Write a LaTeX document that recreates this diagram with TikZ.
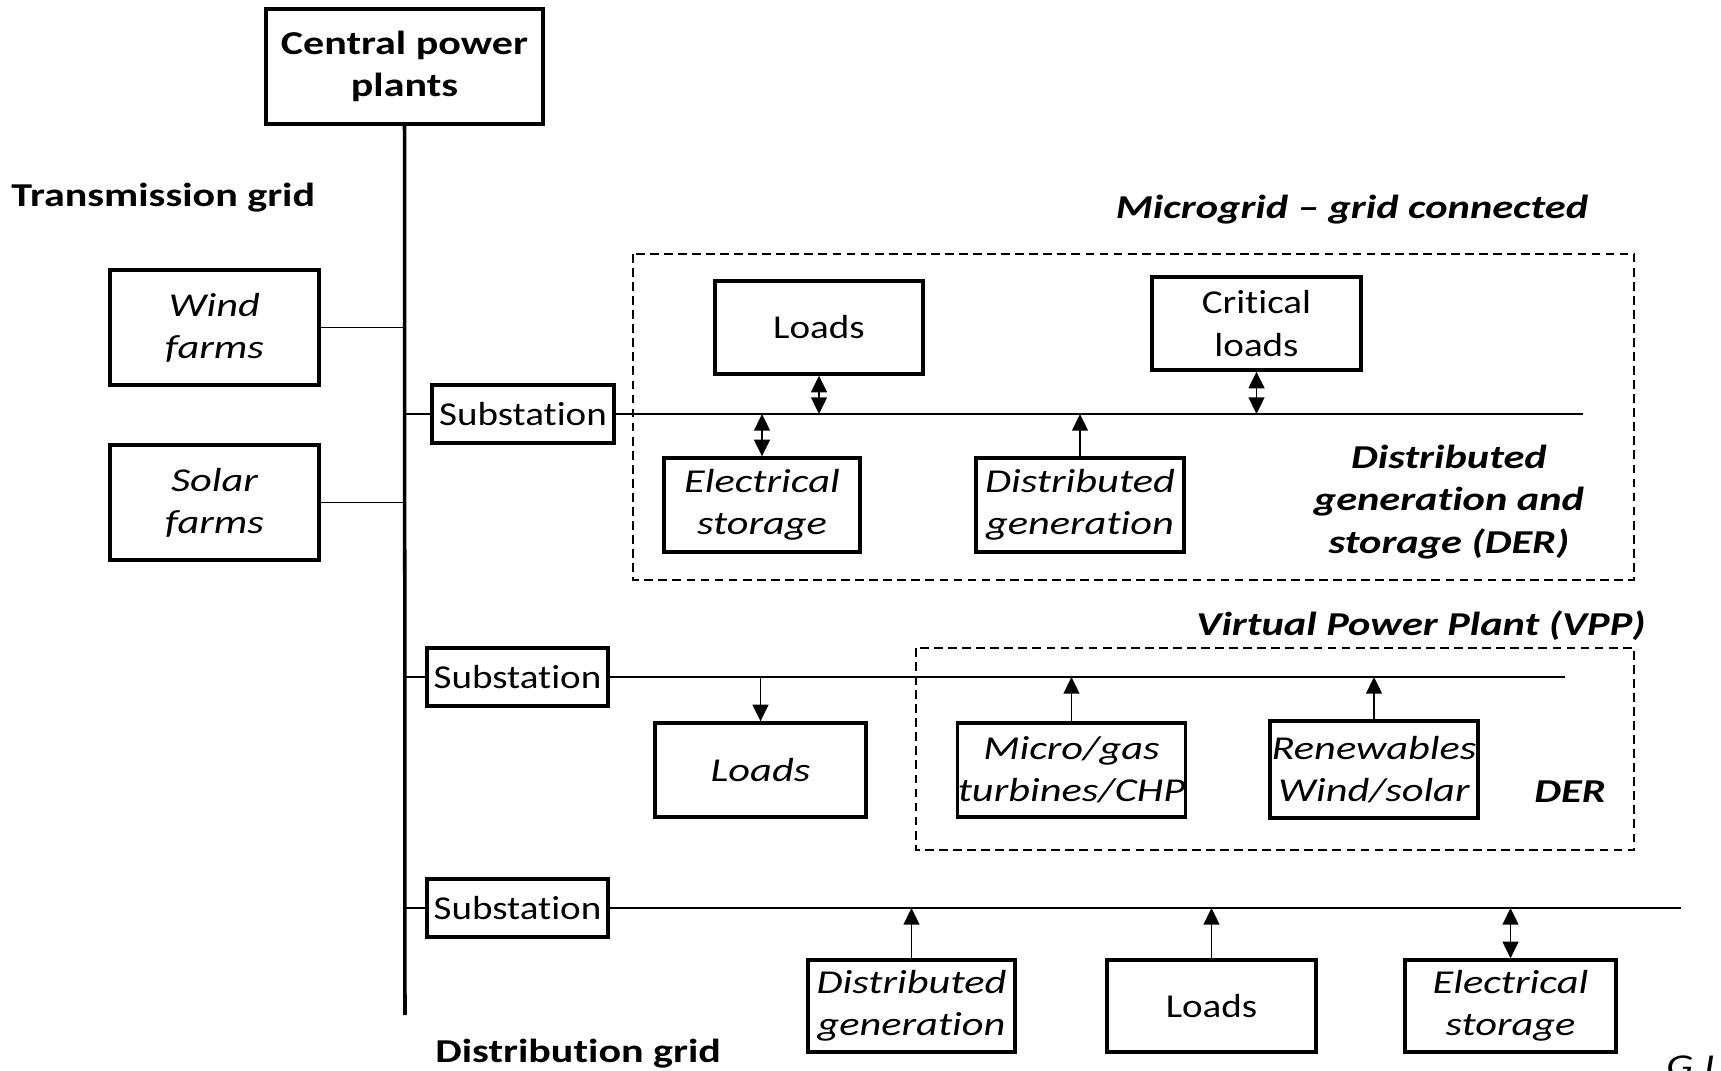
\documentclass[tikz,border=0pt]{standalone}
\usepackage{fontspec}
\setmainfont{Carlito}[Ligatures=CommonOff,
  UprightFeatures={FakeStretch=1.17},
  ItalicFeatures={FakeStretch=1.27},
  BoldFeatures={FakeStretch=1.26},
  BoldItalicFeatures={FakeStretch=1.27}]
\usetikzlibrary{arrows.meta}
\tikzset{mytip/.tip={Triangle[length=9.5pt,width=9pt]}}
\begin{document}
\begin{tikzpicture}[x=0.02cm,y=-0.02cm,
  font=\fontsize{19}{24}\selectfont,
  bx/.style={draw,line width=1.9pt,align=center,inner sep=0pt},
  lbl/.style={align=center,inner sep=0pt,font=\fontsize{19}{24}\selectfont\bfseries\itshape},
  bus/.style={line width=2pt},
  br/.style={line width=1.1pt},
  dbox/.style={line width=0.9pt,dash pattern=on 5pt off 3pt},
  arr/.style={line width=1.1pt,-mytip},
  darr/.style={line width=1.1pt,mytip-mytip}]
\useasboundingbox (0,0) rectangle (1721,1071);

% main nodes
\node[bx,minimum width=5.54cm,minimum height=2.30cm,font=\fontsize{19}{24}\selectfont\bfseries] (cpp) at (404.5,66.5) {Central power\\plants};
\coordinate (busbot) at (405,1015);
\draw[bus] (cpp.south) -- (busbot);

\node[inner sep=0pt,anchor=west,font=\fontsize{19}{24}\selectfont\bfseries] (tg) at (11,198) {Transmission grid};

\node[bx,minimum width=4.18cm,minimum height=2.30cm,font=\fontsize{19}{24}\selectfont\itshape] (wind) at (214.5,327.5) {Wind\\farms};
\node[bx,minimum width=4.18cm,minimum height=2.30cm,font=\fontsize{19}{24}\selectfont\itshape] (solar) at (214.5,502.5) {Solar\\farms};
\draw[br] (wind.east) -- (wind.east -| busbot);
\draw[br] (solar.east) -- (solar.east -| busbot);

% feeder 1 (microgrid)
\node[bx,minimum width=3.64cm,minimum height=1.16cm] (sub1) at (523,414) {Substation};
\coordinate (b1end) at (1583,414);
\draw[br] (sub1.west -| busbot) -- (sub1.west);
\draw[br] (sub1.east) -- (b1end);
\draw[dbox] (633,254) rectangle (1634,580);
\node[lbl] (mgt) at (1352,210) {Microgrid -- grid connected};

\node[bx,minimum width=4.16cm,minimum height=1.86cm] (mgloads) at (819,327.5) {Loads};
\node[bx,minimum width=4.18cm,minimum height=1.86cm] (crit) at (1256.5,323.5) {Critical\\loads};
\node[bx,minimum width=3.92cm,minimum height=1.88cm,font=\fontsize{19}{24}\selectfont\itshape] (es1) at (762,505) {Electrical\\storage};
\node[bx,minimum width=4.16cm,minimum height=1.88cm,font=\fontsize{19}{24}\selectfont\itshape] (dg1) at (1080,505) {Distributed\\generation};
\node[lbl] (der1) at (1449,502) {Distributed\\generation and\\storage (DER)};

\draw[darr] (mgloads.south) -- (mgloads.south |- b1end);
\draw[darr] (crit.south) -- (crit.south |- b1end);
\draw[darr] (es1.north) -- (es1.north |- b1end);
\draw[arr] (dg1.north) -- (dg1.north |- b1end);

% feeder 2 (VPP)
\node[bx,minimum width=3.62cm,minimum height=1.16cm] (sub2) at (517.5,677) {Substation};
\coordinate (b2end) at (1565,677);
\draw[br] (sub2.west -| busbot) -- (sub2.west);
\draw[br] (sub2.east) -- (b2end);
\draw[dbox] (916,648) rectangle (1634,850);
\node[lbl] (vppt) at (1421,626) {Virtual Power Plant (VPP)};

\node[bx,minimum width=4.22cm,minimum height=1.88cm,font=\fontsize{19}{24}\selectfont\itshape] (loads2) at (760.5,770) {Loads};
\node[bx,minimum width=4.50cm,minimum height=1.88cm,font=\fontsize{19}{24}\selectfont\itshape] (micro) at (1071.5,770) {Micro/gas\\turbines/CHP};
\node[bx,minimum width=4.16cm,minimum height=1.94cm,font=\fontsize{19}{24}\selectfont\itshape] (renew) at (1374,769.5) {Renewables\\Wind/solar};
\node[lbl] (der2) at (1570,792) {DER};

\draw[arr] (loads2.north |- b2end) -- (loads2.north);
\draw[arr] (micro.north) -- (micro.north |- b2end);
\draw[arr] (renew.north) -- (renew.north |- b2end);

% feeder 3 (distribution)
\node[bx,minimum width=3.62cm,minimum height=1.16cm] (sub3) at (517.5,908) {Substation};
\coordinate (b3end) at (1681,908);
\draw[br] (sub3.west -| busbot) -- (sub3.west);
\draw[br] (sub3.east) -- (b3end);

\node[bx,minimum width=4.14cm,minimum height=1.84cm,font=\fontsize{19}{24}\selectfont\itshape] (dg3) at (911.5,1006) {Distributed\\generation};
\node[bx,minimum width=4.18cm,minimum height=1.84cm] (loads3) at (1211.5,1006) {Loads};
\node[bx,minimum width=4.22cm,minimum height=1.84cm,font=\fontsize{19}{24}\selectfont\itshape] (es3) at (1510.5,1006) {Electrical\\storage};

\draw[arr] (dg3.north) -- (dg3.north |- b3end);
\draw[arr] (loads3.north) -- (loads3.north |- b3end);
\draw[darr] (es3.north) -- (es3.north |- b3end);

\node[inner sep=0pt,anchor=west,font=\fontsize{19}{24}\selectfont\bfseries] (dgr) at (435,1054) {Distribution grid};
\node[inner sep=0pt,anchor=north west,font=\fontsize{19}{24}\selectfont\itshape] (gi) at (1666,1055) {G.I};
\end{tikzpicture}
\end{document}
